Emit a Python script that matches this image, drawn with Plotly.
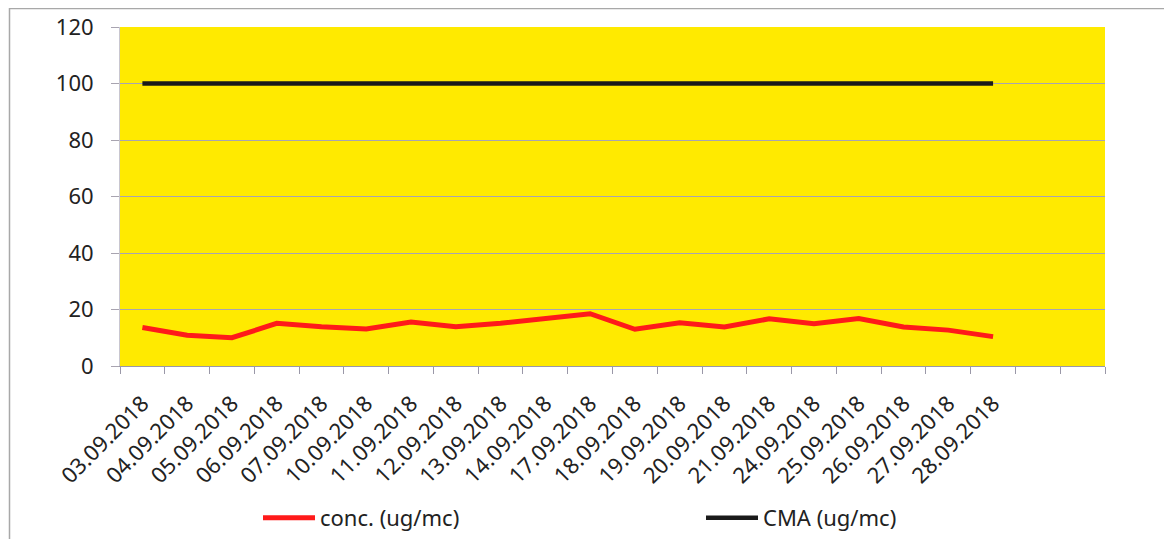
import plotly.graph_objects as go

dates = ["03.09.2018", "04.09.2018", "05.09.2018", "06.09.2018", "07.09.2018",
         "10.09.2018", "11.09.2018", "12.09.2018", "13.09.2018", "14.09.2018",
         "17.09.2018", "18.09.2018", "19.09.2018", "20.09.2018", "21.09.2018",
         "24.09.2018", "25.09.2018", "26.09.2018", "27.09.2018", "28.09.2018"]
conc = [13.6, 10.9, 10.0, 15.1, 13.9, 13.1, 15.6, 13.9, 15.1, 16.6,
        18.5, 13.0, 15.3, 13.8, 16.7, 15.0, 16.8, 13.8, 12.7, 10.4]
cma = [100] * len(dates)
n_slots = 22  # the axis has two empty category slots after the data

# the page body adds an 8px offset, so the figure is drawn 8px smaller
OFF = 8
W, H = 1172 - OFF, 539 - OFF
ML, MT = 120 - OFF, 27 - OFF
MR = W - (1105 - OFF)
MB = H - (366 - OFF)
PW, PH = W - ML - MR, H - MT - MB

def px_x(p):  # screenshot pixel x -> paper fraction
    return (p - OFF - ML) / PW

def px_y(p):  # screenshot pixel y -> paper fraction
    return (H - MB - (p - OFF)) / PH

def cx(p):  # screenshot pixel x -> container fraction
    return (p - OFF) / W

def cy(p):  # screenshot pixel y -> container fraction
    return 1 - (p - OFF) / H

idx = list(range(len(dates)))
FONT = "Noto Sans"
TXT = "#222222"

fig = go.Figure()
fig.add_trace(go.Scatter(x=idx, y=conc, mode="lines", name="conc. (ug/mc)",
                         line=dict(color="#ff1a1a", width=5), legend="legend"))
fig.add_trace(go.Scatter(x=idx, y=cma, mode="lines", name="CMA (ug/mc)",
                         line=dict(color="#1a1a1a", width=4.5), legend="legend2"))

leg_common = dict(orientation="h", yanchor="middle", xanchor="left",
                  xref="container", yref="container",
                  font=dict(family=FONT, size=22, color=TXT),
                  bgcolor="rgba(0,0,0,0)", itemwidth=52)

fig.update_layout(
    width=W, height=H,
    margin=dict(l=ML, r=MR, t=MT, b=MB),
    paper_bgcolor="white",
    plot_bgcolor="#ffea00",
    font=dict(family=FONT, size=22, color=TXT),
    showlegend=True,
    legend=dict(x=cx(258), y=cy(518), **leg_common),
    legend2=dict(x=cx(701), y=cy(518), **leg_common),
    xaxis=dict(
        range=[-0.5, n_slots - 0.5],
        tickmode="array", tickvals=idx, ticktext=dates,
        tickangle=-45, ticks="", showgrid=False, zeroline=False,
        showline=True, linecolor="#9a98a8", linewidth=1,
        tickfont=dict(family=FONT, size=22, color=TXT),
        ticklabelstandoff=15, automargin=False,
        minor=dict(tickmode="linear", tick0=-0.5, dtick=1, ticks="outside",
                   ticklen=7, tickcolor="#9a98a8", tickwidth=1, showgrid=False),
    ),
    yaxis=dict(
        range=[0, 120], tickmode="linear", tick0=0, dtick=20,
        showgrid=True, gridcolor="#a8a4b0", gridwidth=1,
        zeroline=False, showline=True, linecolor="#c8c6d0", linewidth=1,
        ticks="outside", ticklen=8, tickcolor="#a8a4b0",
        tickfont=dict(family=FONT, size=22, color=TXT),
        ticklabelstandoff=13, automargin=False,
    ),
    shapes=[
        dict(type="rect", xref="paper", yref="paper",
             x0=px_x(9.5), x1=px_x(1165), y0=px_y(545), y1=px_y(8.5),
             line=dict(color="#a8a8a8", width=1.5), layer="below"),
    ],
)

fig.write_html("out.html")
